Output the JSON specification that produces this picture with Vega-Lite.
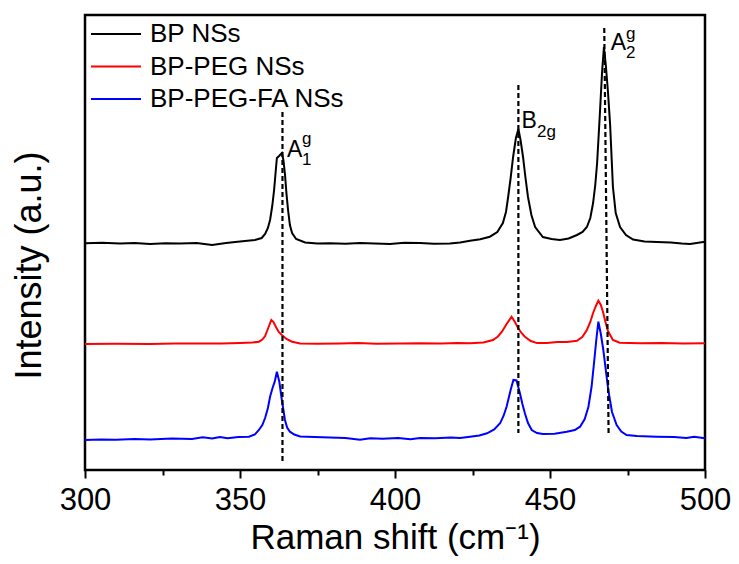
{
  "$schema": "https://vega.github.io/schema/vega-lite/v6.json",
  "width": 620,
  "height": 455,
  "autosize": {"type": "none"},
  "padding": {"left": 85, "top": 15, "right": 34, "bottom": 94},
  "config": {
    "font": "Liberation Sans",
    "view": {"stroke": "#000000", "strokeWidth": 2.5},
    "axis": {"grid": false, "domain": false, "labelColor": "#000000", "titleColor": "#000000", "titleFontWeight": "normal"}
  },
  "datasets": {
    "spectra": [
      {"shift": 300.0, "intensity": 226.7, "sample": "BP NSs"},
      {"shift": 305.5, "intensity": 227.2, "sample": "BP NSs"},
      {"shift": 311.3, "intensity": 226.5, "sample": "BP NSs"},
      {"shift": 316.0, "intensity": 227.0, "sample": "BP NSs"},
      {"shift": 321.0, "intensity": 226.0, "sample": "BP NSs"},
      {"shift": 326.0, "intensity": 226.8, "sample": "BP NSs"},
      {"shift": 330.6, "intensity": 226.5, "sample": "BP NSs"},
      {"shift": 336.0, "intensity": 226.9, "sample": "BP NSs"},
      {"shift": 341.0, "intensity": 225.0, "sample": "BP NSs"},
      {"shift": 345.5, "intensity": 227.0, "sample": "BP NSs"},
      {"shift": 350.0, "intensity": 228.5, "sample": "BP NSs"},
      {"shift": 354.8, "intensity": 230.0, "sample": "BP NSs"},
      {"shift": 357.0, "intensity": 232.0, "sample": "BP NSs"},
      {"shift": 358.1, "intensity": 236.0, "sample": "BP NSs"},
      {"shift": 359.0, "intensity": 242.0, "sample": "BP NSs"},
      {"shift": 359.7, "intensity": 250.0, "sample": "BP NSs"},
      {"shift": 360.4, "intensity": 264.0, "sample": "BP NSs"},
      {"shift": 361.0, "intensity": 280.0, "sample": "BP NSs"},
      {"shift": 361.5, "intensity": 298.0, "sample": "BP NSs"},
      {"shift": 361.9, "intensity": 312.0, "sample": "BP NSs"},
      {"shift": 362.6, "intensity": 314.0, "sample": "BP NSs"},
      {"shift": 363.5, "intensity": 317.0, "sample": "BP NSs"},
      {"shift": 364.0, "intensity": 310.0, "sample": "BP NSs"},
      {"shift": 364.5, "intensity": 296.0, "sample": "BP NSs"},
      {"shift": 365.0, "intensity": 276.0, "sample": "BP NSs"},
      {"shift": 365.5, "intensity": 260.0, "sample": "BP NSs"},
      {"shift": 366.1, "intensity": 245.0, "sample": "BP NSs"},
      {"shift": 366.8, "intensity": 237.0, "sample": "BP NSs"},
      {"shift": 368.1, "intensity": 231.0, "sample": "BP NSs"},
      {"shift": 371.0, "intensity": 227.5, "sample": "BP NSs"},
      {"shift": 375.0, "intensity": 226.5, "sample": "BP NSs"},
      {"shift": 379.0, "intensity": 226.8, "sample": "BP NSs"},
      {"shift": 384.0, "intensity": 226.2, "sample": "BP NSs"},
      {"shift": 388.7, "intensity": 227.0, "sample": "BP NSs"},
      {"shift": 393.5, "intensity": 226.4, "sample": "BP NSs"},
      {"shift": 398.4, "intensity": 226.0, "sample": "BP NSs"},
      {"shift": 403.0, "intensity": 227.3, "sample": "BP NSs"},
      {"shift": 408.1, "intensity": 227.0, "sample": "BP NSs"},
      {"shift": 412.5, "intensity": 226.2, "sample": "BP NSs"},
      {"shift": 417.7, "intensity": 226.5, "sample": "BP NSs"},
      {"shift": 421.0, "intensity": 227.6, "sample": "BP NSs"},
      {"shift": 424.2, "intensity": 229.3, "sample": "BP NSs"},
      {"shift": 427.5, "intensity": 230.8, "sample": "BP NSs"},
      {"shift": 430.6, "intensity": 233.3, "sample": "BP NSs"},
      {"shift": 433.0, "intensity": 238.0, "sample": "BP NSs"},
      {"shift": 434.8, "intensity": 247.0, "sample": "BP NSs"},
      {"shift": 435.8, "intensity": 258.0, "sample": "BP NSs"},
      {"shift": 436.5, "intensity": 273.0, "sample": "BP NSs"},
      {"shift": 437.3, "intensity": 292.0, "sample": "BP NSs"},
      {"shift": 438.1, "intensity": 313.0, "sample": "BP NSs"},
      {"shift": 439.0, "intensity": 332.0, "sample": "BP NSs"},
      {"shift": 439.8, "intensity": 341.0, "sample": "BP NSs"},
      {"shift": 440.5, "intensity": 330.0, "sample": "BP NSs"},
      {"shift": 441.3, "intensity": 313.0, "sample": "BP NSs"},
      {"shift": 442.1, "intensity": 292.0, "sample": "BP NSs"},
      {"shift": 442.9, "intensity": 273.0, "sample": "BP NSs"},
      {"shift": 444.0, "intensity": 255.0, "sample": "BP NSs"},
      {"shift": 445.2, "intensity": 243.0, "sample": "BP NSs"},
      {"shift": 447.7, "intensity": 233.0, "sample": "BP NSs"},
      {"shift": 450.5, "intensity": 231.0, "sample": "BP NSs"},
      {"shift": 453.2, "intensity": 230.0, "sample": "BP NSs"},
      {"shift": 456.0, "intensity": 231.5, "sample": "BP NSs"},
      {"shift": 458.7, "intensity": 235.0, "sample": "BP NSs"},
      {"shift": 460.5, "intensity": 238.0, "sample": "BP NSs"},
      {"shift": 461.9, "intensity": 243.0, "sample": "BP NSs"},
      {"shift": 463.0, "intensity": 252.0, "sample": "BP NSs"},
      {"shift": 463.9, "intensity": 267.0, "sample": "BP NSs"},
      {"shift": 464.6, "intensity": 285.0, "sample": "BP NSs"},
      {"shift": 465.2, "intensity": 307.0, "sample": "BP NSs"},
      {"shift": 466.1, "intensity": 357.0, "sample": "BP NSs"},
      {"shift": 466.8, "intensity": 398.0, "sample": "BP NSs"},
      {"shift": 467.4, "intensity": 423.0, "sample": "BP NSs"},
      {"shift": 468.0, "intensity": 405.0, "sample": "BP NSs"},
      {"shift": 468.7, "intensity": 378.0, "sample": "BP NSs"},
      {"shift": 469.4, "intensity": 345.0, "sample": "BP NSs"},
      {"shift": 470.3, "intensity": 283.0, "sample": "BP NSs"},
      {"shift": 471.2, "intensity": 257.0, "sample": "BP NSs"},
      {"shift": 472.6, "intensity": 243.0, "sample": "BP NSs"},
      {"shift": 474.5, "intensity": 235.0, "sample": "BP NSs"},
      {"shift": 476.8, "intensity": 230.5, "sample": "BP NSs"},
      {"shift": 480.5, "intensity": 228.5, "sample": "BP NSs"},
      {"shift": 484.5, "intensity": 228.0, "sample": "BP NSs"},
      {"shift": 489.0, "intensity": 227.6, "sample": "BP NSs"},
      {"shift": 492.5, "intensity": 226.5, "sample": "BP NSs"},
      {"shift": 495.2, "intensity": 226.0, "sample": "BP NSs"},
      {"shift": 500.0, "intensity": 228.3, "sample": "BP NSs"},

      {"shift": 300.0, "intensity": 126.0, "sample": "BP-PEG NSs"},
      {"shift": 310.0, "intensity": 126.3, "sample": "BP-PEG NSs"},
      {"shift": 321.0, "intensity": 126.0, "sample": "BP-PEG NSs"},
      {"shift": 329.0, "intensity": 126.6, "sample": "BP-PEG NSs"},
      {"shift": 337.1, "intensity": 126.5, "sample": "BP-PEG NSs"},
      {"shift": 344.0, "intensity": 126.4, "sample": "BP-PEG NSs"},
      {"shift": 350.0, "intensity": 127.0, "sample": "BP-PEG NSs"},
      {"shift": 354.0, "intensity": 127.4, "sample": "BP-PEG NSs"},
      {"shift": 356.1, "intensity": 128.3, "sample": "BP-PEG NSs"},
      {"shift": 357.2, "intensity": 130.5, "sample": "BP-PEG NSs"},
      {"shift": 358.1, "intensity": 134.0, "sample": "BP-PEG NSs"},
      {"shift": 359.1, "intensity": 142.0, "sample": "BP-PEG NSs"},
      {"shift": 360.1, "intensity": 150.0, "sample": "BP-PEG NSs"},
      {"shift": 360.8, "intensity": 148.0, "sample": "BP-PEG NSs"},
      {"shift": 361.6, "intensity": 143.0, "sample": "BP-PEG NSs"},
      {"shift": 362.5, "intensity": 138.0, "sample": "BP-PEG NSs"},
      {"shift": 363.5, "intensity": 135.0, "sample": "BP-PEG NSs"},
      {"shift": 365.0, "intensity": 131.0, "sample": "BP-PEG NSs"},
      {"shift": 366.8, "intensity": 128.3, "sample": "BP-PEG NSs"},
      {"shift": 369.4, "intensity": 126.6, "sample": "BP-PEG NSs"},
      {"shift": 375.0, "intensity": 126.2, "sample": "BP-PEG NSs"},
      {"shift": 382.3, "intensity": 126.5, "sample": "BP-PEG NSs"},
      {"shift": 388.0, "intensity": 126.9, "sample": "BP-PEG NSs"},
      {"shift": 394.0, "intensity": 126.3, "sample": "BP-PEG NSs"},
      {"shift": 401.6, "intensity": 126.5, "sample": "BP-PEG NSs"},
      {"shift": 408.0, "intensity": 126.8, "sample": "BP-PEG NSs"},
      {"shift": 415.0, "intensity": 126.4, "sample": "BP-PEG NSs"},
      {"shift": 420.0, "intensity": 126.9, "sample": "BP-PEG NSs"},
      {"shift": 424.2, "intensity": 126.7, "sample": "BP-PEG NSs"},
      {"shift": 428.5, "intensity": 127.6, "sample": "BP-PEG NSs"},
      {"shift": 431.6, "intensity": 130.0, "sample": "BP-PEG NSs"},
      {"shift": 433.2, "intensity": 133.5, "sample": "BP-PEG NSs"},
      {"shift": 434.5, "intensity": 138.3, "sample": "BP-PEG NSs"},
      {"shift": 436.0, "intensity": 146.0, "sample": "BP-PEG NSs"},
      {"shift": 437.6, "intensity": 153.3, "sample": "BP-PEG NSs"},
      {"shift": 438.6, "intensity": 148.5, "sample": "BP-PEG NSs"},
      {"shift": 439.7, "intensity": 142.0, "sample": "BP-PEG NSs"},
      {"shift": 440.8, "intensity": 137.0, "sample": "BP-PEG NSs"},
      {"shift": 441.9, "intensity": 133.3, "sample": "BP-PEG NSs"},
      {"shift": 443.8, "intensity": 129.0, "sample": "BP-PEG NSs"},
      {"shift": 445.8, "intensity": 126.9, "sample": "BP-PEG NSs"},
      {"shift": 449.0, "intensity": 127.0, "sample": "BP-PEG NSs"},
      {"shift": 452.3, "intensity": 128.0, "sample": "BP-PEG NSs"},
      {"shift": 455.5, "intensity": 128.0, "sample": "BP-PEG NSs"},
      {"shift": 458.7, "intensity": 129.3, "sample": "BP-PEG NSs"},
      {"shift": 460.4, "intensity": 133.0, "sample": "BP-PEG NSs"},
      {"shift": 461.9, "intensity": 140.0, "sample": "BP-PEG NSs"},
      {"shift": 463.0, "intensity": 148.0, "sample": "BP-PEG NSs"},
      {"shift": 463.9, "intensity": 157.0, "sample": "BP-PEG NSs"},
      {"shift": 464.8, "intensity": 164.0, "sample": "BP-PEG NSs"},
      {"shift": 465.6, "intensity": 169.3, "sample": "BP-PEG NSs"},
      {"shift": 466.4, "intensity": 165.0, "sample": "BP-PEG NSs"},
      {"shift": 467.1, "intensity": 158.0, "sample": "BP-PEG NSs"},
      {"shift": 467.9, "intensity": 148.0, "sample": "BP-PEG NSs"},
      {"shift": 468.7, "intensity": 139.0, "sample": "BP-PEG NSs"},
      {"shift": 470.3, "intensity": 130.0, "sample": "BP-PEG NSs"},
      {"shift": 472.5, "intensity": 127.3, "sample": "BP-PEG NSs"},
      {"shift": 479.0, "intensity": 126.7, "sample": "BP-PEG NSs"},
      {"shift": 486.0, "intensity": 126.9, "sample": "BP-PEG NSs"},
      {"shift": 493.0, "intensity": 126.5, "sample": "BP-PEG NSs"},
      {"shift": 500.0, "intensity": 126.7, "sample": "BP-PEG NSs"},

      {"shift": 300.0, "intensity": 30.0, "sample": "BP-PEG-FA NSs"},
      {"shift": 305.0, "intensity": 30.6, "sample": "BP-PEG-FA NSs"},
      {"shift": 310.0, "intensity": 30.2, "sample": "BP-PEG-FA NSs"},
      {"shift": 316.0, "intensity": 31.0, "sample": "BP-PEG-FA NSs"},
      {"shift": 321.0, "intensity": 30.5, "sample": "BP-PEG-FA NSs"},
      {"shift": 328.0, "intensity": 31.4, "sample": "BP-PEG-FA NSs"},
      {"shift": 334.5, "intensity": 31.0, "sample": "BP-PEG-FA NSs"},
      {"shift": 338.0, "intensity": 32.8, "sample": "BP-PEG-FA NSs"},
      {"shift": 341.0, "intensity": 31.5, "sample": "BP-PEG-FA NSs"},
      {"shift": 343.5, "intensity": 33.0, "sample": "BP-PEG-FA NSs"},
      {"shift": 346.0, "intensity": 31.8, "sample": "BP-PEG-FA NSs"},
      {"shift": 349.5, "intensity": 33.0, "sample": "BP-PEG-FA NSs"},
      {"shift": 352.9, "intensity": 33.3, "sample": "BP-PEG-FA NSs"},
      {"shift": 354.8, "intensity": 35.5, "sample": "BP-PEG-FA NSs"},
      {"shift": 356.1, "intensity": 40.0, "sample": "BP-PEG-FA NSs"},
      {"shift": 357.2, "intensity": 45.0, "sample": "BP-PEG-FA NSs"},
      {"shift": 358.1, "intensity": 52.0, "sample": "BP-PEG-FA NSs"},
      {"shift": 359.0, "intensity": 62.0, "sample": "BP-PEG-FA NSs"},
      {"shift": 359.7, "intensity": 73.3, "sample": "BP-PEG-FA NSs"},
      {"shift": 360.5, "intensity": 82.0, "sample": "BP-PEG-FA NSs"},
      {"shift": 361.2, "intensity": 88.3, "sample": "BP-PEG-FA NSs"},
      {"shift": 361.9, "intensity": 98.3, "sample": "BP-PEG-FA NSs"},
      {"shift": 362.7, "intensity": 88.0, "sample": "BP-PEG-FA NSs"},
      {"shift": 363.5, "intensity": 70.0, "sample": "BP-PEG-FA NSs"},
      {"shift": 364.5, "intensity": 50.0, "sample": "BP-PEG-FA NSs"},
      {"shift": 365.2, "intensity": 42.5, "sample": "BP-PEG-FA NSs"},
      {"shift": 366.1, "intensity": 38.3, "sample": "BP-PEG-FA NSs"},
      {"shift": 367.5, "intensity": 35.5, "sample": "BP-PEG-FA NSs"},
      {"shift": 369.4, "intensity": 33.6, "sample": "BP-PEG-FA NSs"},
      {"shift": 374.0, "intensity": 33.0, "sample": "BP-PEG-FA NSs"},
      {"shift": 379.0, "intensity": 32.6, "sample": "BP-PEG-FA NSs"},
      {"shift": 384.0, "intensity": 32.0, "sample": "BP-PEG-FA NSs"},
      {"shift": 388.7, "intensity": 30.2, "sample": "BP-PEG-FA NSs"},
      {"shift": 392.0, "intensity": 31.8, "sample": "BP-PEG-FA NSs"},
      {"shift": 396.0, "intensity": 31.2, "sample": "BP-PEG-FA NSs"},
      {"shift": 401.0, "intensity": 32.0, "sample": "BP-PEG-FA NSs"},
      {"shift": 405.0, "intensity": 30.8, "sample": "BP-PEG-FA NSs"},
      {"shift": 408.1, "intensity": 32.0, "sample": "BP-PEG-FA NSs"},
      {"shift": 413.0, "intensity": 31.8, "sample": "BP-PEG-FA NSs"},
      {"shift": 418.0, "intensity": 32.5, "sample": "BP-PEG-FA NSs"},
      {"shift": 421.0, "intensity": 32.0, "sample": "BP-PEG-FA NSs"},
      {"shift": 424.2, "intensity": 33.3, "sample": "BP-PEG-FA NSs"},
      {"shift": 427.2, "intensity": 34.5, "sample": "BP-PEG-FA NSs"},
      {"shift": 429.7, "intensity": 36.7, "sample": "BP-PEG-FA NSs"},
      {"shift": 432.0, "intensity": 40.5, "sample": "BP-PEG-FA NSs"},
      {"shift": 433.9, "intensity": 46.7, "sample": "BP-PEG-FA NSs"},
      {"shift": 435.0, "intensity": 54.0, "sample": "BP-PEG-FA NSs"},
      {"shift": 436.0, "intensity": 63.3, "sample": "BP-PEG-FA NSs"},
      {"shift": 437.3, "intensity": 80.0, "sample": "BP-PEG-FA NSs"},
      {"shift": 438.2, "intensity": 90.0, "sample": "BP-PEG-FA NSs"},
      {"shift": 439.2, "intensity": 89.5, "sample": "BP-PEG-FA NSs"},
      {"shift": 440.3, "intensity": 76.7, "sample": "BP-PEG-FA NSs"},
      {"shift": 441.1, "intensity": 66.0, "sample": "BP-PEG-FA NSs"},
      {"shift": 441.9, "intensity": 56.7, "sample": "BP-PEG-FA NSs"},
      {"shift": 442.9, "intensity": 47.0, "sample": "BP-PEG-FA NSs"},
      {"shift": 444.1, "intensity": 40.0, "sample": "BP-PEG-FA NSs"},
      {"shift": 445.8, "intensity": 37.0, "sample": "BP-PEG-FA NSs"},
      {"shift": 447.7, "intensity": 36.0, "sample": "BP-PEG-FA NSs"},
      {"shift": 451.5, "intensity": 36.2, "sample": "BP-PEG-FA NSs"},
      {"shift": 455.4, "intensity": 38.3, "sample": "BP-PEG-FA NSs"},
      {"shift": 458.0, "intensity": 40.0, "sample": "BP-PEG-FA NSs"},
      {"shift": 459.7, "intensity": 43.3, "sample": "BP-PEG-FA NSs"},
      {"shift": 461.2, "intensity": 51.0, "sample": "BP-PEG-FA NSs"},
      {"shift": 462.4, "intensity": 63.3, "sample": "BP-PEG-FA NSs"},
      {"shift": 463.4, "intensity": 83.0, "sample": "BP-PEG-FA NSs"},
      {"shift": 464.2, "intensity": 107.0, "sample": "BP-PEG-FA NSs"},
      {"shift": 465.0, "intensity": 132.0, "sample": "BP-PEG-FA NSs"},
      {"shift": 465.6, "intensity": 148.3, "sample": "BP-PEG-FA NSs"},
      {"shift": 466.4, "intensity": 136.0, "sample": "BP-PEG-FA NSs"},
      {"shift": 467.2, "intensity": 120.0, "sample": "BP-PEG-FA NSs"},
      {"shift": 468.0, "intensity": 100.0, "sample": "BP-PEG-FA NSs"},
      {"shift": 468.8, "intensity": 80.0, "sample": "BP-PEG-FA NSs"},
      {"shift": 470.0, "intensity": 58.0, "sample": "BP-PEG-FA NSs"},
      {"shift": 471.5, "intensity": 45.0, "sample": "BP-PEG-FA NSs"},
      {"shift": 473.0, "intensity": 38.5, "sample": "BP-PEG-FA NSs"},
      {"shift": 474.7, "intensity": 35.0, "sample": "BP-PEG-FA NSs"},
      {"shift": 478.0, "intensity": 34.0, "sample": "BP-PEG-FA NSs"},
      {"shift": 484.4, "intensity": 33.3, "sample": "BP-PEG-FA NSs"},
      {"shift": 490.0, "intensity": 33.0, "sample": "BP-PEG-FA NSs"},
      {"shift": 494.0, "intensity": 32.0, "sample": "BP-PEG-FA NSs"},
      {"shift": 496.5, "intensity": 33.2, "sample": "BP-PEG-FA NSs"},
      {"shift": 500.0, "intensity": 31.7, "sample": "BP-PEG-FA NSs"}
    ],
    "modes": [
      {"mode": "A1g", "shift_top": 363.7, "top": 358, "shift_bottom": 363.7, "bottom": 8},
      {"mode": "B2g", "shift_top": 439.8, "top": 385, "shift_bottom": 439.8, "bottom": 37},
      {"mode": "A2g", "shift_top": 467.5, "top": 442, "shift_bottom": 468.9, "bottom": 37}
    ],
    "mode_labels": [
      {"shift": 365.2, "intensity": 313, "text": "A", "part": "base"},
      {"shift": 370.0, "intensity": 326, "text": "g", "part": "script"},
      {"shift": 370.0, "intensity": 305, "text": "1", "part": "script"},
      {"shift": 440.8, "intensity": 342, "text": "B", "part": "base"},
      {"shift": 445.8, "intensity": 333, "text": "2g", "part": "script"},
      {"shift": 469.6, "intensity": 420, "text": "A", "part": "base"},
      {"shift": 474.5, "intensity": 431, "text": "g", "part": "script"},
      {"shift": 474.5, "intensity": 412, "text": "2", "part": "script"}
    ]
  },
  "layer": [
    {
      "data": {"name": "spectra"},
      "mark": {"type": "line", "strokeWidth": 2, "clip": true},
      "encoding": {
        "x": {
          "field": "shift", "type": "quantitative",
          "scale": {"domain": [300, 500], "nice": false, "zero": false},
          "axis": {
            "title": "Raman shift (cm⁻¹)",
            "values": [300, 325, 350, 375, 400, 425, 450, 475, 500],
            "labelExpr": "datum.value % 50 === 0 ? datum.label : ''",
            "labelFlush": false,
            "labelOverlap": false,
            "labelFontSize": 31,
            "labelPadding": 7,
            "tickColor": "#000000",
            "tickWidth": 2,
            "tickSize": {"condition": {"test": "datum.value % 50 === 0", "value": 8}, "value": 5},
            "titleFontSize": 35,
            "titlePadding": 5
          }
        },
        "y": {
          "field": "intensity", "type": "quantitative",
          "scale": {"domain": [0, 455], "nice": false, "zero": false},
          "axis": {
            "title": "Intensity (a.u.)",
            "ticks": false,
            "labels": false,
            "titleFontSize": 36,
            "titleAngle": -90,
            "titleX": -56,
            "titleY": 250,
            "titleAlign": "center",
            "titleBaseline": "middle"
          }
        },
        "color": {
          "field": "sample", "type": "nominal",
          "scale": {"domain": ["BP NSs", "BP-PEG NSs", "BP-PEG-FA NSs"], "range": ["#000000", "#ff0000", "#0000ff"]},
          "legend": {
            "title": null,
            "orient": "none",
            "legendX": 5,
            "legendY": 4,
            "padding": 0,
            "symbolType": "stroke",
            "symbolSize": 2500,
            "symbolStrokeWidth": 2,
            "labelFontSize": 26,
            "labelColor": "#000000",
            "labelOffset": 8,
            "labelLimit": 400,
            "clipHeight": 30,
            "rowPadding": 2.5
          }
        }
      }
    },
    {
      "data": {"name": "modes"},
      "mark": {"type": "rule", "color": "#000000", "strokeWidth": 2.2, "strokeDash": [5, 3]},
      "encoding": {
        "x": {"field": "shift_top", "type": "quantitative"},
        "y": {"field": "top", "type": "quantitative"},
        "x2": {"field": "shift_bottom"},
        "y2": {"field": "bottom"}
      }
    },
    {
      "data": {"name": "mode_labels"},
      "transform": [{"filter": "datum.part === 'base'"}],
      "mark": {"type": "text", "align": "left", "baseline": "alphabetic", "fontSize": 23, "color": "#000000"},
      "encoding": {
        "x": {"field": "shift", "type": "quantitative"},
        "y": {"field": "intensity", "type": "quantitative"},
        "text": {"field": "text"}
      }
    },
    {
      "data": {"name": "mode_labels"},
      "transform": [{"filter": "datum.part === 'script'"}],
      "mark": {"type": "text", "align": "left", "baseline": "alphabetic", "fontSize": 17, "color": "#000000"},
      "encoding": {
        "x": {"field": "shift", "type": "quantitative"},
        "y": {"field": "intensity", "type": "quantitative"},
        "text": {"field": "text"}
      }
    }
  ]
}
